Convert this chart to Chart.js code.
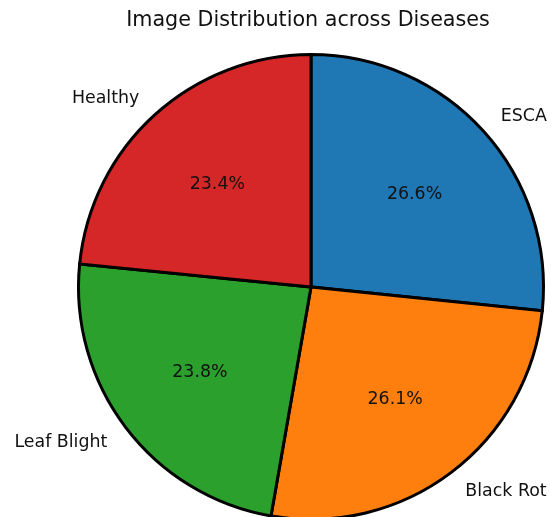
<!DOCTYPE html>
<html>
<head>
<meta charset="utf-8">
<script src="https://cdn.jsdelivr.net/npm/chart.js@4/dist/chart.umd.min.js"></script>
<style>
  html, body { margin: 0; padding: 0; background: #fff; overflow: hidden; }
  #wrap { width: 551px; height: 530px; }
</style>
</head>
<body>
<div id="wrap"><canvas id="c" width="551" height="530"></canvas></div>
<script>
// Share of images per disease class (percent)
const categories = ['ESCA', 'Black Rot', 'Leaf Blight', 'Healthy'];
const imageShares = [26.6, 26.1, 23.8, 23.4];
const sliceColors = ['#1f77b4', '#ff7f0e', '#2ca02c', '#d62728'];
const chartTitle = 'Image Distribution across Diseases';

const FONT = '"DejaVu Sans", Verdana, sans-serif';

// Draws the title, the category labels outside the wedges and the percentages inside
const pieText = {
  id: 'pieText',
  afterDraw(chart) {
    const ctx = chart.ctx;
    const meta = chart.getDatasetMeta(0);
    const values = chart.data.datasets[0].data;
    const total = values.reduce((a, b) => a + b, 0);
    ctx.save();
    ctx.fillStyle = '#111';

    ctx.font = '20.7px ' + FONT;
    ctx.textAlign = 'center';
    ctx.textBaseline = 'middle';
    ctx.fillText(chartTitle, 308, 21);

    meta.data.forEach((arc, i) => {
      const mid = (arc.startAngle + arc.endAngle) / 2;
      const r = arc.outerRadius;
      const cx = arc.x, cy = arc.y;
      const cos = Math.cos(mid), sin = Math.sin(mid);

      // category name at 1.1 radius
      ctx.font = '17.4px ' + FONT;
      ctx.textBaseline = 'middle';
      ctx.textAlign = cos > 0 ? 'left' : 'right';
      ctx.fillText(chart.data.labels[i], cx + 1.1 * r * cos, cy + 1.1 * r * sin + 1);

      // percentage at 0.6 radius
      ctx.textAlign = 'center';
      const pct = (values[i] / total * 100).toFixed(1) + '%';
      ctx.fillText(pct, cx + 0.6 * r * cos, cy + 0.6 * r * sin + 1);
    });
    ctx.restore();
  }
};

new Chart(document.getElementById('c'), {
  type: 'pie',
  data: {
    labels: categories,
    datasets: [{
      data: imageShares,
      backgroundColor: sliceColors,
      borderColor: '#000',
      borderWidth: 3,
      borderJoinStyle: 'miter'
    }]
  },
  options: {
    responsive: false,
    animation: false,
    rotation: 0,
    layout: { padding: { left: 77, right: 6, top: 53, bottom: 9 } },
    plugins: {
      legend: { display: false },
      title: { display: false },
      tooltip: { enabled: false }
    }
  },
  plugins: [pieText]
});
</script>
</body>
</html>
